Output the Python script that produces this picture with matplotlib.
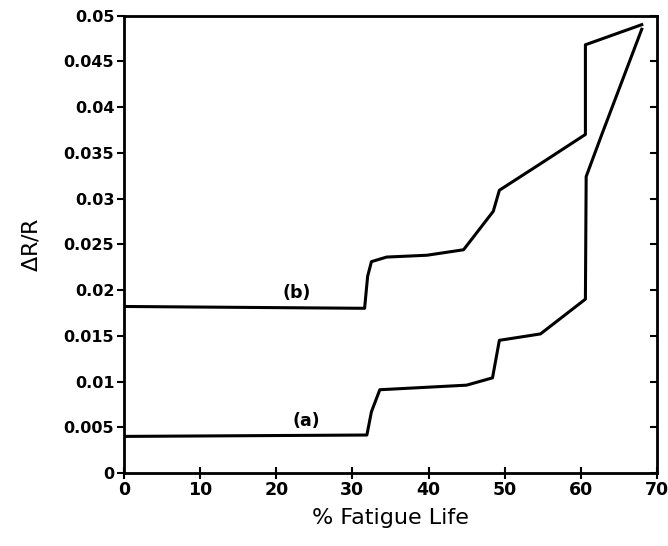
import matplotlib
matplotlib.use('Agg')
import matplotlib.pyplot as plt

# curve (a)
fatigue_a = [0, 31.9, 32.5, 33.6, 45.0, 48.4, 49.3, 54.7, 60.6, 60.7, 62.8, 68.0]
dr_a = [0.0040, 0.00415, 0.0067, 0.0091, 0.0096, 0.0104, 0.0145, 0.0152,
        0.0190, 0.0324, 0.0371, 0.0485]

# curve (b)
fatigue_b = [0, 31.6, 32.0, 32.5, 34.5, 39.8, 44.6, 48.5, 49.3, 54.7, 60.6,
             60.6, 68.0]
dr_b = [0.0182, 0.0180, 0.0215, 0.0231, 0.0236, 0.0238, 0.0244, 0.0286,
        0.0309, 0.0338, 0.0370, 0.0468, 0.0490]

xticks = [0, 10, 20, 30, 40, 50, 60, 70]
yticks = [0, 0.005, 0.01, 0.015, 0.02, 0.025, 0.03, 0.035, 0.04, 0.045, 0.05]
ytick_labels = ['0', '0.005', '0.01', '0.015', '0.02', '0.025', '0.03',
                '0.035', '0.04', '0.045', '0.05']

fig = plt.figure(figsize=(6.68, 5.46), dpi=100)
ax = fig.add_axes([0.1856, 0.1337, 0.7979, 0.8379])

ax.plot(fatigue_a, dr_a, color='black', lw=2.2)
ax.plot(fatigue_b, dr_b, color='black', lw=2.2)

ax.text(23.9, 0.0057, '(a)', fontsize=12.5, fontweight='bold',
        ha='center', va='center')
ax.text(22.7, 0.0197, '(b)', fontsize=12.5, fontweight='bold',
        ha='center', va='center')

ax.set_xlim(0, 70)
ax.set_ylim(0, 0.05)
ax.set_xticks(xticks)
ax.set_xticklabels([str(t) for t in xticks], fontsize=12.5, fontweight='bold')
ax.set_yticks(yticks)
ax.set_yticklabels(ytick_labels, fontsize=11.5, fontweight='bold')

ax.tick_params(axis='x', direction='inout', length=8, width=1.5, pad=2)
ax.tick_params(axis='y', direction='out', length=5, width=1.5, pad=2)
for sp in ax.spines.values():
    sp.set_linewidth(2.0)

# right side ticks point inward, no labels
ax_r = ax.twinx()
ax_r.set_ylim(0, 0.05)
ax_r.set_yticks(yticks)
ax_r.tick_params(axis='y', direction='in', length=5, width=1.5,
                 labelright=False)

ax.set_xlabel('% Fatigue Life', fontsize=16, labelpad=6)
ax.set_ylabel(r'$\Delta$R/R', fontsize=16, labelpad=16)

fig.savefig('out.png', dpi=100)
